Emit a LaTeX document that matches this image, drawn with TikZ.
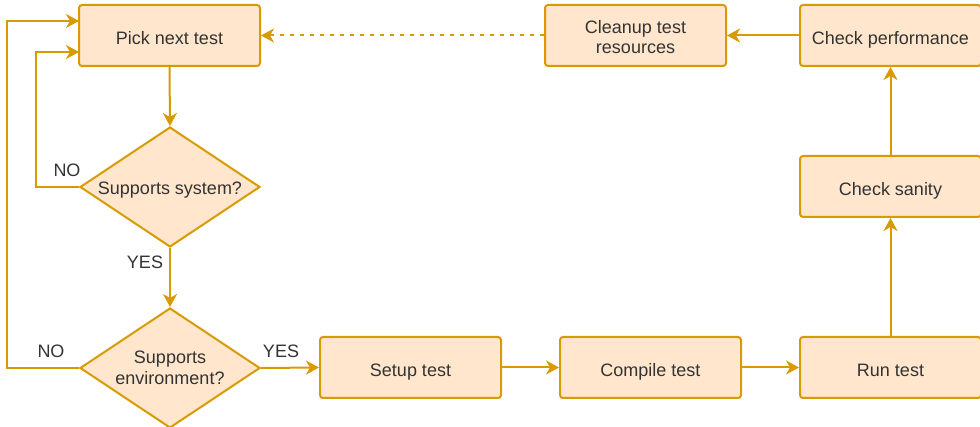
\documentclass[tikz,border=0pt]{standalone}
\usepackage{fontspec}
\setmainfont{Liberation Sans}
\usetikzlibrary{shapes.geometric,arrows.meta}
\definecolor{boxfill}{HTML}{FFE6CC}
\definecolor{boxline}{HTML}{D79B00}
\definecolor{txt}{HTML}{333333}
\tikzset{
  x=1pt,y=-1pt,
  every node/.style={font=\fontsize{18}{20.5}\selectfont, text=txt},
  procbox/.style={draw=boxline, fill=boxfill, line width=2pt, rounded corners=3pt,
    minimum width=181pt, minimum height=61pt, inner sep=0pt, align=center},
  oneline/.style={text height=18pt, text depth=0pt},
  decision/.style={diamond, draw=boxline, fill=boxfill, line width=2pt, aspect=1.5,
    minimum width=180pt, minimum height=120pt, inner sep=0pt, align=center},
  conn/.style={draw=boxline, line width=2pt, -{Stealth[length=13pt,width=14pt,inset=4pt]}},
  lbl/.style={font=\fontsize{18}{20}\selectfont, text=txt, inner sep=0pt}
}
\begin{document}
\begin{tikzpicture}
\useasboundingbox (0,0) rectangle (980,427);
\node[procbox, oneline] (pick) at (169.5,35.5) {Pick next test};
\node[procbox] (clean) at (635.5,35.5) {\rule{0pt}{16pt}Cleanup test\\resources};
\node[procbox, oneline] (perf) at (890.5,35.5) {Check performance};
\node[procbox, oneline] (sanity) at (890.5,186.5) {Check sanity};
\node[procbox, oneline] (run) at (890.5,367.5) {Run test};
\node[procbox, oneline] (compile) at (650.5,367.5) {Compile test};
\node[procbox, oneline] (setup) at (410.5,367.5) {Setup test};
\node[decision, text height=15pt, text depth=0pt] (sys) at (170,187) {Supports system?};
\node[decision] (env) at (170,368) {Supports\\environment?};
\coordinate (p1) at (79,21);
\coordinate (p2) at (79,52);
\draw[conn] (pick.south) -- (sys.north);
\draw[conn] (sys.south) -- (env.north);
\draw[conn] (sys.west) -- (36,187) -- (36,52) -- (p2);
\draw[conn] (env.west) -- (7,368) -- (7,21) -- (p1);
\draw[conn] (env.east) -- (setup.west);
\draw[conn] (setup.east) -- (compile.west);
\draw[conn] (compile.east) -- (run.west);
\draw[conn] (run.north) -- (sanity.south);
\draw[conn] (sanity.north) -- (perf.south);
\draw[conn] (perf.west) -- (clean.east);
\draw[conn, dash pattern=on 4pt off 6pt] (clean.west) -- (pick.east);
\node[lbl] (no1) at (67,170) {NO};
\node[lbl] (yes1) at (145,262) {YES};
\node[lbl] (no2) at (51,351) {NO};
\node[lbl] (yes2) at (281,351) {YES};
\end{tikzpicture}
\end{document}
